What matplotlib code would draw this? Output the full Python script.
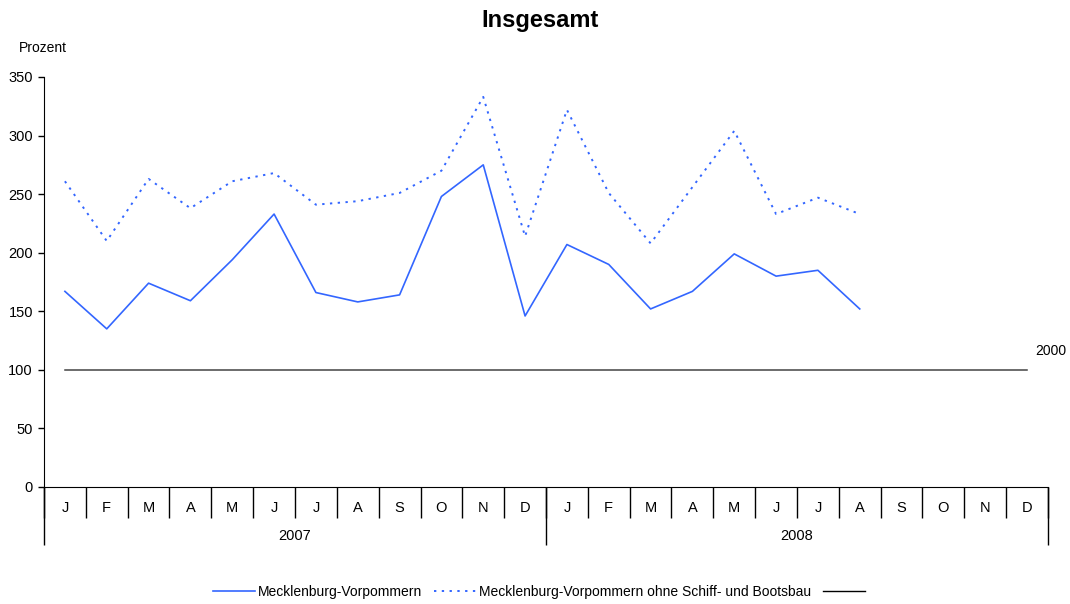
import matplotlib
matplotlib.use("Agg")
import matplotlib.pyplot as plt
from matplotlib.lines import Line2D

plt.rcParams['font.family'] = ['Liberation Sans', 'DejaVu Sans']

months = ["J", "F", "M", "A", "M", "J", "J", "A", "S", "O", "N", "D"] * 2
years = ["2007", "2008"]

mv = [167, 135, 174, 159, 194, 233, 166, 158, 164, 248, 275, 146,
      207, 190, 152, 167, 199, 180, 185, 152]
mv_ohne = [261, 210, 263, 238, 261, 268, 241, 244, 251, 270, 333, 214,
           322, 251, 208, 256, 304, 233, 247, 233]
basis = [100] * 24
basis_label = "2000"

blue = "#3366FF"

fig = plt.figure(figsize=(10.7, 6.04), dpi=100)
ax = fig.add_axes([44 / 1070, 1 - 487 / 604, 1004 / 1070, 410 / 604])

x_all = list(range(len(months)))
l1, = ax.plot(x_all[:len(mv)], mv, color=blue, lw=1.2)
l2, = ax.plot(x_all[:len(mv_ohne)], mv_ohne, color=blue, lw=1.4,
              linestyle=(0, (1.2, 2.8)))
l3, = ax.plot(x_all, basis, color="#444444", lw=1.1)
ax.text(x_all[-1] + 0.2, basis[-1] + 10, basis_label, fontsize=10, ha="left", va="bottom")

ax.set_xlim(-0.5, len(months) - 0.5)
ax.set_ylim(0, 350)
ax.set_yticks(range(0, 351, 50))
ax.tick_params(axis="y", labelsize=10.5, length=4, width=1, pad=4)

for s in ["top", "right"]:
    ax.spines[s].set_visible(False)

# month separators and labels
ax.set_xticks([i - 0.5 for i in range(len(months) + 1)])
ax.set_xticklabels([])
ax.tick_params(axis="x", which="major", length=22, width=1, direction="out")
ax.set_xticks(x_all, minor=True)
ax.set_xticklabels(months, minor=True, fontsize=10.5)
ax.tick_params(axis="x", which="minor", length=0, pad=10)

# year separators and labels
sec = ax.secondary_xaxis("bottom")
sec.set_xticks([-0.5, 11.5, 23.5])
sec.set_xticklabels([])
sec.tick_params(axis="x", which="major", length=42, width=1)
sec.set_xticks([5.5, 17.5], minor=True)
sec.set_xticklabels(years, minor=True, fontsize=10.5)
sec.tick_params(axis="x", which="minor", length=0, pad=30)
sec.spines["bottom"].set_visible(False)

fig.text(0.505, 1 - 20 / 604, "Insgesamt", ha="center", va="center", fontsize=17, fontweight="bold")
fig.text(19 / 1070, 1 - 48 / 604, "Prozent", ha="left", va="center", fontsize=10)

fig.legend([l1, l2, Line2D([], [], color="black", lw=1)],
           ["Mecklenburg-Vorpommern", "Mecklenburg-Vorpommern ohne Schiff- und Bootsbau", ""],
           loc="center", bbox_to_anchor=(0.505, 1 - 592 / 604), ncol=3, frameon=False,
           fontsize=10, handlelength=3.0, columnspacing=0.9, handletextpad=0.2)

fig.savefig("out.png", dpi=100)
